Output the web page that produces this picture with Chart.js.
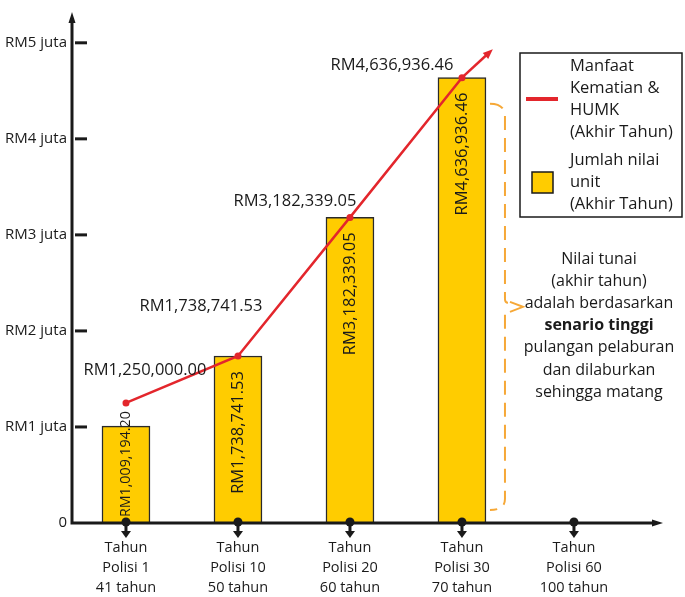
<!DOCTYPE html>
<html>
<head>
<meta charset="utf-8">
<script src="https://cdn.jsdelivr.net/npm/chart.js@4.4.1/dist/chart.umd.min.js"></script>
<style>
html, body { margin: 0; padding: 0; background: #fff; }
#wrap { width: 685px; height: 597px; position: relative; }
</style>
</head>
<body>
<div id="wrap"><canvas id="chart"></canvas></div>
<script>
const categories = [
	['Tahun', 'Polisi 1', '41 tahun'],
	['Tahun', 'Polisi 10', '50 tahun'],
	['Tahun', 'Polisi 20', '60 tahun'],
	['Tahun', 'Polisi 30', '70 tahun'],
	['Tahun', 'Polisi 60', '100 tahun']
];
const unitValue = [1009194.20, 1738741.53, 3182339.05, 4636936.46];
const deathBenefit = [1250000.00, 1738741.53, 3182339.05, 4636936.46];
const yTicks = [0, 1000000, 2000000, 3000000, 4000000, 5000000];
const yTickLabels = ['0', 'RM1 juta', 'RM2 juta', 'RM3 juta', 'RM4 juta', 'RM5 juta'];
const legendLine = ['Manfaat', 'Kematian &', 'HUMK', '(Akhir Tahun)'];
const legendBar = ['Jumlah nilai', 'unit', '(Akhir Tahun)'];
const noteLines = ['Nilai tunai', '(akhir tahun)', 'adalah berdasarkan', 'senario tinggi', 'pulangan pelaburan', 'dan dilaburkan', 'sehingga matang'];

const FONT = '"Open Sans", "Noto Sans", sans-serif';
const RED = '#e3262c';
const GOLD = '#ffcc00';
const ORANGE = '#f6a837';
const INK = '#1a1a1a';
// where each point label sits relative to its point
const labelOffsets = [[19, -33], [-37, -50], [-55, -16], [-70, -12]];

const fmt = new Intl.NumberFormat('en-US', { minimumFractionDigits: 2, maximumFractionDigits: 2 });
const money = v => 'RM' + fmt.format(v);

function arrowHead(ctx, x, y, angle, len, half) {
	ctx.save();
	ctx.translate(x, y);
	ctx.rotate(angle);
	ctx.beginPath();
	ctx.moveTo(0, 0);
	ctx.lineTo(-len, -half);
	ctx.lineTo(-len, half);
	ctx.closePath();
	ctx.fill();
	ctx.restore();
}

const decor = {
	id: 'decor',
	afterDatasetDraw(chart, args) {
		if (args.index !== 1) return;
		const ctx = chart.ctx;
		const base = chart.scales.y.getPixelForValue(0);
		ctx.save();
		ctx.fillStyle = INK;
		ctx.textBaseline = 'middle';
		ctx.textAlign = 'left';
		args.meta.data.forEach((bar, i) => {
			const txt = money(unitValue[i]);
			let size = 16.5;
			ctx.font = size + 'px ' + FONT;
			let w = ctx.measureText(txt).width;
			let top = bar.y + 15;
			if (top + w > base - 6) {
				// too short a bar: shrink the text and sit it on the base
				const room = base - bar.y + 9;
				if (w > room) {
					size = size * room / w;
					ctx.font = size + 'px ' + FONT;
					w = ctx.measureText(txt).width;
				}
				top = base - 6 - w;
			}
			ctx.save();
			ctx.translate(bar.x, top + w);
			ctx.rotate(-Math.PI / 2);
			ctx.fillText(txt, 0, 0);
			ctx.restore();
		});
		ctx.restore();
	},
	afterDraw(chart) {
		const ctx = chart.ctx;
		const area = chart.chartArea;
		const xs = chart.scales.x, ys = chart.scales.y;
		const left = area.left, bottom = ys.getPixelForValue(0);
		ctx.save();

		// axes
		ctx.strokeStyle = INK;
		ctx.fillStyle = INK;
		ctx.lineWidth = 3;
		ctx.beginPath();
		ctx.moveTo(left, bottom + 1.5);
		ctx.lineTo(left, area.top + 8);
		ctx.moveTo(left - 1.5, bottom);
		ctx.lineTo(area.right - 8, bottom);
		ctx.stroke();
		arrowHead(ctx, left, area.top - 2, -Math.PI / 2, 11, 3.5);
		arrowHead(ctx, area.right, bottom, 0, 11, 3.5);

		// inside tick dashes on y axis
		yTicks.forEach(v => {
			if (v === 0) return;
			const y = ys.getPixelForValue(v);
			ctx.beginPath();
			ctx.moveTo(left + 3, y);
			ctx.lineTo(left + 15, y);
			ctx.stroke();
		});

		// markers on x axis
		categories.forEach((c, i) => {
			const x = xs.getPixelForValue(i);
			ctx.beginPath();
			ctx.arc(x, bottom - 1, 4.5, 0, Math.PI * 2);
			ctx.fill();
			ctx.fillRect(x - 1.5, bottom, 3, 9);
			ctx.beginPath();
			ctx.moveTo(x - 5, bottom + 8);
			ctx.lineTo(x + 5, bottom + 8);
			ctx.lineTo(x, bottom + 15);
			ctx.closePath();
			ctx.fill();
		});

		// arrow continuing the red line
		const pts = chart.getDatasetMeta(0).data;
		const p3 = pts[pts.length - 2], p4 = pts[pts.length - 1];
		const ang = Math.atan2(p4.y - p3.y, p4.x - p3.x) + 0.15;
		const ex = p4.x + Math.cos(ang) * 42, ey = p4.y + Math.sin(ang) * 42;
		ctx.strokeStyle = RED;
		ctx.fillStyle = RED;
		ctx.lineWidth = 2.5;
		ctx.beginPath();
		ctx.moveTo(p4.x, p4.y);
		ctx.lineTo(ex - Math.cos(ang) * 6, ey - Math.sin(ang) * 6);
		ctx.stroke();
		arrowHead(ctx, ex, ey, ang, 10, 4);

		// point labels
		ctx.fillStyle = INK;
		ctx.font = '16.5px ' + FONT;
		ctx.textAlign = 'center';
		ctx.textBaseline = 'middle';
		pts.forEach((p, i) => {
			ctx.fillText(money(deathBenefit[i]), p.x + labelOffsets[i][0], p.y + labelOffsets[i][1]);
		});

		// legend
		ctx.fillStyle = '#fff';
		ctx.fillRect(520, 53, 162, 164);
		ctx.strokeStyle = INK;
		ctx.lineWidth = 1.5;
		ctx.strokeRect(520, 53, 162, 164);
		ctx.strokeStyle = RED;
		ctx.lineWidth = 4;
		ctx.beginPath();
		ctx.moveTo(526, 99);
		ctx.lineTo(558, 99);
		ctx.stroke();
		ctx.fillStyle = GOLD;
		ctx.fillRect(532, 172, 21, 21);
		ctx.strokeStyle = INK;
		ctx.lineWidth = 1.5;
		ctx.strokeRect(532, 172, 21, 21);
		ctx.fillStyle = INK;
		ctx.textAlign = 'left';
		ctx.font = '16.5px ' + FONT;
		legendLine.forEach((t, i) => ctx.fillText(t, 570, 66 + i * 22));
		legendBar.forEach((t, i) => ctx.fillText(t, 570, 160 + i * 22));

		// brace next to the last bar
		const bar = chart.getDatasetMeta(1).data[3];
		const bx = bar.x + bar.width / 2 + 19;
		const top = bar.y + 26, bot = bottom - 13, mid = (top + bot) / 2;
		ctx.strokeStyle = ORANGE;
		ctx.lineWidth = 2;
		ctx.setLineDash([14, 8]);
		ctx.beginPath();
		ctx.moveTo(bx - 15, top);
		ctx.quadraticCurveTo(bx, top, bx, top + 13);
		ctx.lineTo(bx, mid - 8);
		ctx.quadraticCurveTo(bx, mid - 4, bx + 3, mid - 4);
		ctx.moveTo(bx, mid + 8);
		ctx.lineTo(bx, bot - 11);
		ctx.quadraticCurveTo(bx, bot, bx - 15, bot);
		ctx.stroke();
		ctx.setLineDash([]);
		ctx.beginPath();
		ctx.moveTo(bx + 5, mid - 5);
		ctx.lineTo(bx + 18, mid);
		ctx.lineTo(bx + 5, mid + 5);
		ctx.stroke();

		// note text
		ctx.fillStyle = INK;
		ctx.textAlign = 'center';
		noteLines.forEach((t, i) => {
			ctx.font = (i === 3 ? 'bold ' : '') + '16px ' + FONT;
			ctx.fillText(t, 599, 259 + i * 22.2);
		});
		ctx.restore();
	}
};

const ctx = document.getElementById('chart');
new Chart(ctx, {
	type: 'bar',
	data: {
		datasets: [
			{
				type: 'line',
				label: 'Manfaat Kematian & HUMK (Akhir Tahun)',
				data: deathBenefit.map((v, i) => ({ x: i, y: v })),
				borderColor: RED,
				backgroundColor: RED,
				borderWidth: 2.5,
				pointRadius: 3.5,
				pointBorderWidth: 0,
				pointBackgroundColor: RED,
				tension: 0,
				order: 0
			},
			{
				type: 'bar',
				label: 'Jumlah nilai unit (Akhir Tahun)',
				data: unitValue.map((v, i) => ({ x: i, y: v })),
				backgroundColor: GOLD,
				borderColor: '#2a2a2a',
				borderWidth: 1.5,
				barThickness: 48,
				order: 1
			}
		]
	},
	options: {
		responsive: true,
		maintainAspectRatio: false,
		animation: false,
		layout: { padding: { top: 8, right: 22, left: 0, bottom: 0 } },
		plugins: {
			legend: { display: false },
			tooltip: { enabled: false }
		},
		scales: {
			x: {
				type: 'linear',
				offset: false,
				min: -0.482,
				max: 4.795,
				afterBuildTicks: s => { s.ticks = categories.map((c, i) => ({ value: i })); },
				afterFit: s => { s.height = 74; },
				ticks: {
					callback: v => categories[v],
					font: { family: FONT, size: 14.5, lineHeight: 1.38 },
					color: INK,
					padding: 15,
					autoSkip: false,
					maxRotation: 0
				},
				grid: { display: false, drawTicks: false, offset: false },
				border: { display: false }
			},
			y: {
				min: 0,
				max: 5300000,
				afterBuildTicks: s => { s.ticks = yTicks.map(v => ({ value: v })); },
				afterFit: s => { s.width = 72; },
				ticks: {
					callback: v => yTickLabels[yTicks.indexOf(v)],
					font: { family: FONT, size: 15 },
					color: INK,
					padding: 5
				},
				grid: { display: false, drawTicks: false },
				border: { display: false }
			}
		}
	},
	plugins: [decor]
});
</script>
</body>
</html>
